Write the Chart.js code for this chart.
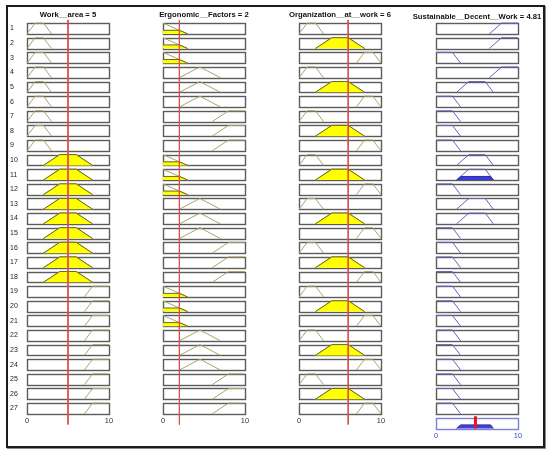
<!DOCTYPE html>
<html>
<head>
<meta charset="utf-8">
<script src="https://cdn.jsdelivr.net/npm/chart.js@4.4.1/dist/chart.umd.min.js"></script>
<style>
  html, body { margin: 0; padding: 0; background: #fff; }
  #frame { position: absolute; left: 6px; top: 5px; width: 535px; height: 439px;
           border: 2px solid #1c1c1c; box-shadow: 1px 1px 0 #8a8a8a; }
  canvas { position: absolute; top: 0; }
</style>
</head>
<body>
<div id="frame"></div>
<div id="charts"></div>
<script>
// rule numbers down the left side
const ruleNumbers = ['1','2','3','4','5','6','7','8','9','10','11','12','13','14','15','16','17','18','19','20','21','22','23','24','25','26','27'];
const columnTitles = ['Work__area = 5', 'Ergonomic__Factors = 2', 'Organization__at__work = 6', 'Sustainable__Decent__Work = 4.81'];
const axisTicks = ['0', '10'];

// crisp inputs and defuzzified output
const inputValues = [5, 2, 6];
const outputValue = 4.81;

// membership functions as [x, mu] breakpoints (low, medium, high)
const workAreaMF = [
  [[0, 0], [1, 1], [2, 1], [3, 0]],
  [[2, 0], [4, 1], [6, 1], [8, 0]],
  [[7, 0], [8, 1], [10, 1]]
];
const ergonomicMF = [
  [[0, 1], [3, 0]],
  [[2, 0], [4.5, 1], [7, 0]],
  [[6, 0], [8, 1], [10, 1]]
];
const organizationMF = [
  [[0, 0], [1, 1], [2, 1], [3, 0]],
  [[2, 0], [4, 1], [6, 1], [8, 0]],
  [[7, 0], [8, 1], [9, 1], [10, 0]]
];
const sustainableMF = [
  [[0, 1], [2, 1], [3, 0]],
  [[2.5, 0], [4, 1], [6, 1], [7, 0]],
  [[6.5, 0], [8, 1], [10, 1]]
];

// which MF each rule uses (0 low, 1 medium, 2 high)
const ruleWorkArea = [0,0,0,0,0,0,0,0,0, 1,1,1,1,1,1,1,1,1, 2,2,2,2,2,2,2,2,2];
const ruleErgonomic = [0,0,0,1,1,1,2,2,2, 0,0,0,1,1,1,2,2,2, 0,0,0,1,1,1,2,2,2];
const ruleOrganization = [0,1,2,0,1,2,0,1,2, 0,1,2,0,1,2,0,1,2, 0,1,2,0,1,2,0,1,2];
const ruleOutput = [2,2,0,2,1,0,0,0,0, 1,1,0,1,1,0,0,0,0, 0,0,0,0,0,0,0,0,0];

const ROW_HALF = 0.37;
const AGG_ROW = ruleNumbers.length + 1;
const BOX_LEFT = [27, 163, 299, 436];
const BOX_W = 82;
const PAD = 30;

function membership(pts, v) {
  if (v < pts[0][0] || v > pts[pts.length - 1][0]) return 0;
  for (let i = 0; i < pts.length - 1; i++) {
    const p = pts[i], q = pts[i + 1];
    if (v >= p[0] && v <= q[0] && q[0] > p[0]) {
      return p[1] + (q[1] - p[1]) * (v - p[0]) / (q[0] - p[0]);
    }
  }
  return pts.length === 1 ? pts[0][1] : 0;
}

// min(mu, level) as a polyline
function clipMF(pts, level) {
  const out = [];
  for (let i = 0; i < pts.length; i++) {
    const p = pts[i];
    out.push([p[0], Math.min(p[1], level)]);
    if (i < pts.length - 1) {
      const q = pts[i + 1];
      if ((p[1] - level) * (q[1] - level) < 0) {
        const t = (level - p[1]) / (q[1] - p[1]);
        out.push([p[0] + t * (q[0] - p[0]), level]);
      }
    }
  }
  return out;
}

function toPoints(pts, row) {
  return pts.map(p => ({ x: p[0], y: row + ROW_HALF - 2 * ROW_HALF * p[1] }));
}

const inputMFs = [workAreaMF, ergonomicMF, organizationMF];
const inputRules = [ruleWorkArea, ruleErgonomic, ruleOrganization];

// firing strength of every rule
const strengths = ruleNumbers.map((_, r) =>
  Math.min(...inputMFs.map((mfs, c) => membership(mfs[inputRules[c][r]], inputValues[c]))));

function inputDatasets(c) {
  const ds = [{
    data: [{ x: inputValues[c], y: 0.4 }, { x: inputValues[c], y: 28.1 }],
    borderColor: '#e04a4a', borderWidth: 1
  }];
  ruleNumbers.forEach((_, r) => {
    const row = r + 1;
    const pts = inputMFs[c][inputRules[c][r]];
    const level = membership(pts, inputValues[c]);
    if (level > 0) {
      ds.push({
        data: toPoints(clipMF(pts, level), row),
        borderColor: '#6b6620', backgroundColor: '#ffff00',
        borderWidth: 1, fill: { value: row + ROW_HALF }
      });
    }
    ds.push({ data: toPoints(pts, row), borderColor: '#aca466', borderWidth: 1 });
  });
  return ds;
}

function outputDatasets() {
  const ds = [{
    data: [{ x: outputValue, y: AGG_ROW - 0.47 }, { x: outputValue, y: AGG_ROW + ROW_HALF }],
    borderColor: '#e8141e', borderWidth: 3
  }];
  const clipped = [];
  ruleNumbers.forEach((_, r) => {
    const row = r + 1;
    const pts = sustainableMF[ruleOutput[r]];
    const level = strengths[r];
    if (level > 0) {
      const cp = clipMF(pts, level);
      clipped.push(cp);
      ds.push({
        data: toPoints(cp, row),
        borderColor: '#2a2aa8', backgroundColor: '#3a3ad8',
        borderWidth: 1, fill: { value: row + ROW_HALF }
      });
    }
    ds.push({ data: toPoints(pts, row), borderColor: '#6464c0', borderWidth: 1 });
  });
  // aggregated output: upper envelope of the clipped shapes
  const xs = [...new Set(clipped.flat().map(p => p[0]))].sort((a, b) => a - b);
  const agg = xs.map(x => [x, Math.max(...clipped.map(cp => membership(cp, x)))]);
  ds.push({
    data: toPoints(agg, AGG_ROW),
    borderColor: '#2a2a9a', backgroundColor: '#4040da',
    borderWidth: 1, fill: { value: AGG_ROW + ROW_HALF }
  });
  return ds;
}

const fisFrame = {
  id: 'fisFrame',
  beforeDatasetsDraw(chart, args, opts) {
    const ctx = chart.ctx, x = chart.scales.x, y = chart.scales.y;
    const l = Math.round(x.getPixelForValue(0)) + 0.5;
    const rr = Math.round(x.getPixelForValue(10)) + 0.5;
    ctx.save();
    opts.rows.forEach(row => {
      const t = Math.round(y.getPixelForValue(row - ROW_HALF)) + 0.5;
      const b = Math.round(y.getPixelForValue(row + ROW_HALF)) + 0.5;
      ctx.fillStyle = '#ffffff';
      ctx.fillRect(l, t, rr - l, b - t);
      ctx.lineWidth = 1.4;
      ctx.strokeStyle = row === AGG_ROW ? '#7f7fd8' : '#5c5c5c';
      ctx.strokeRect(l, t, rr - l, b - t);
    });
    ctx.restore();
  },
  afterDraw(chart, args, opts) {
    const ctx = chart.ctx, x = chart.scales.x, y = chart.scales.y;
    ctx.save();
    ctx.textBaseline = 'middle';
    ctx.textAlign = 'center';
    ctx.fillStyle = '#111';
    ctx.font = 'bold 7.7px "Liberation Sans", Arial, sans-serif';
    ctx.fillText(opts.title, x.getPixelForValue(5), opts.titleY);

    ctx.font = '7.5px "Liberation Sans", Arial, sans-serif';
    ctx.fillStyle = opts.tickColor;
    ctx.fillText(axisTicks[0], x.getPixelForValue(0), opts.tickY);
    ctx.fillText(axisTicks[1], x.getPixelForValue(10), opts.tickY);

    if (opts.rowNumbers) {
      ctx.textAlign = 'left';
      ctx.fillStyle = '#222';
      ctx.font = '7px "Liberation Sans", Arial, sans-serif';
      ruleNumbers.forEach((lab, r) => {
        ctx.fillText(lab, x.getPixelForValue(0) - 17, y.getPixelForValue(r + 1));
      });
    }
    ctx.restore();
  }
};

const holder = document.getElementById('charts');
for (let c = 0; c < 4; c++) {
  const canvas = document.createElement('canvas');
  canvas.width = BOX_W + 2 * PAD;
  canvas.height = 454;
  canvas.style.left = (BOX_LEFT[c] - PAD) + 'px';
  holder.appendChild(canvas);

  const isOutput = c === 3;
  const rows = ruleNumbers.map((_, r) => r + 1);
  if (isOutput) rows.push(AGG_ROW);

  new Chart(canvas.getContext('2d'), {
    type: 'line',
    data: { datasets: isOutput ? outputDatasets() : inputDatasets(c) },
    options: {
      responsive: false,
      animation: false,
      layout: { padding: { left: PAD, right: PAD, top: 19.73, bottom: 23.6 } },
      elements: { point: { radius: 0 }, line: { tension: 0, fill: false } },
      scales: {
        x: { type: 'linear', min: 0, max: 10, display: false },
        y: { type: 'linear', min: 0.4, max: 28.5, reverse: true, display: false }
      },
      plugins: {
        legend: { display: false },
        tooltip: { enabled: false },
        fisFrame: {
          rows: rows,
          title: columnTitles[c],
          titleY: isOutput ? 17 : 15,
          tickY: isOutput ? 436 : 421,
          tickColor: isOutput ? '#2f4fd0' : '#333333',
          rowNumbers: c === 0
        }
      }
    },
    plugins: [fisFrame]
  });
}
</script>
</body>
</html>
